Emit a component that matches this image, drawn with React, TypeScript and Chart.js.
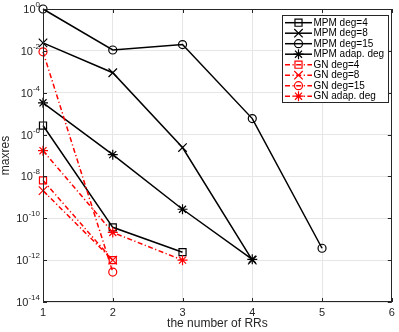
import React, { useEffect, useRef } from 'react';
import { Chart, registerables } from 'chart.js';

Chart.register(...registerables);

// ---- data ----
const rrCounts = [1, 2, 3, 4, 5];
const mpmDeg4 = [2.7e-6, 3.7e-11, 2.4e-12];
const mpmDeg8 = [2.4e-2, 9e-4, 2.4e-7, 1e-12];
const mpmDeg15 = [1.0, 1.1e-2, 2e-2, 5.8e-6, 3.7e-12];
const mpmAdap = [3.3e-5, 1.1e-7, 2.7e-10, 1.1e-12];
const gnDeg4 = [6.5e-9, 1e-12];
const gnDeg8 = [2.1e-9, 1e-12];
const gnDeg15 = [9e-3, 2.7e-13];
const gnAdap = [1.7e-7, 2.1e-11, 1e-12];
const xTicks = [1, 2, 3, 4, 5, 6];
const yExponents = [0, -2, -4, -6, -8, -10, -12, -14];
const seriesLabels = [
  'MPM deg=4',
  'MPM deg=8',
  'MPM deg=15',
  'MPM adap. deg',
  'GN deg=4',
  'GN deg=8',
  'GN deg=15',
  'GN adap. deg',
];
const xTitle = 'the number of RRs';
const yTitle = 'maxres';

const FONT = "'Liberation Sans', Arial, Helvetica, sans-serif";
const TEXT = '#262626';
const RED = '#ff0000';
const BLACK = '#000000';
const DASH = [5, 2.5, 1.2, 2.5];

const markerRadius: Record<string, number> = { rect: 5, crossRot: 6, circle: 4, star: 5 };
const styles = ['rect', 'crossRot', 'circle', 'star'];
const allValues = [mpmDeg4, mpmDeg8, mpmDeg15, mpmAdap, gnDeg4, gnDeg8, gnDeg15, gnAdap];

function drawMarker(ctx: CanvasRenderingContext2D, style: string, x: number, y: number, r: number) {
  ctx.beginPath();
  if (style === 'rect') {
    const s = r * Math.SQRT1_2;
    ctx.rect(x - s, y - s, 2 * s, 2 * s);
  } else if (style === 'circle') {
    ctx.arc(x, y, r, 0, Math.PI * 2);
  } else if (style === 'crossRot' || style === 'star') {
    const o = r * Math.SQRT1_2;
    ctx.moveTo(x - o, y - o); ctx.lineTo(x + o, y + o);
    ctx.moveTo(x - o, y + o); ctx.lineTo(x + o, y - o);
    if (style === 'star') {
      ctx.moveTo(x - r, y); ctx.lineTo(x + r, y);
      ctx.moveTo(x, y - r); ctx.lineTo(x, y + r);
    }
  }
  ctx.stroke();
}

const matlabPlugin = {
  id: 'matlabLook',
  afterDraw(chart: any) {
    const { ctx, chartArea: a, scales } = chart;
    ctx.save();
    // inward ticks
    ctx.strokeStyle = TEXT;
    ctx.lineWidth = 1;
    ctx.setLineDash([]);
    const tl = 4;
    ctx.beginPath();
    xTicks.forEach((v) => {
      const x = Math.round(scales.x.getPixelForValue(v)) + 0.5;
      ctx.moveTo(x, a.bottom); ctx.lineTo(x, a.bottom - tl);
      ctx.moveTo(x, a.top); ctx.lineTo(x, a.top + tl);
    });
    yExponents.forEach((e) => {
      const y = Math.round(scales.y.getPixelForValue(Math.pow(10, e))) + 0.5;
      ctx.moveTo(a.left, y); ctx.lineTo(a.left + tl, y);
      ctx.moveTo(a.right, y); ctx.lineTo(a.right - tl, y);
    });
    ctx.stroke();
    // box
    ctx.strokeRect(Math.round(a.left) + 0.5, Math.round(a.top) + 0.5, Math.round(a.width) - 1, Math.round(a.height) - 1);

    // y tick labels with superscript exponents
    ctx.fillStyle = TEXT;
    yExponents.forEach((e) => {
      const y = scales.y.getPixelForValue(Math.pow(10, e));
      const exp = String(e);
      ctx.font = `8px ${FONT}`;
      const ew = ctx.measureText(exp).width;
      const right = a.left - 3;
      ctx.textAlign = 'left';
      ctx.textBaseline = 'alphabetic';
      ctx.fillText(exp, right - ew, y - 2);
      ctx.font = `11px ${FONT}`;
      ctx.textAlign = 'right';
      ctx.fillText('10', right - ew, y + 4);
    });

    // legend
    const bx = 282, by = 15, bw = 106, bh = 87;
    ctx.fillStyle = '#ffffff';
    ctx.fillRect(bx, by, bw, bh);
    ctx.strokeStyle = TEXT;
    ctx.lineWidth = 1;
    ctx.strokeRect(bx + 0.5, by + 0.5, bw, bh);
    seriesLabels.forEach((label, i) => {
      const y = 22.7 + i * 10.5;
      const color = i < 4 ? BLACK : RED;
      ctx.strokeStyle = color;
      ctx.lineWidth = 1.5;
      ctx.setLineDash(i < 4 ? [] : DASH);
      ctx.beginPath();
      ctx.moveTo(285, y); ctx.lineTo(312, y);
      ctx.stroke();
      ctx.setLineDash([]);
      ctx.lineWidth = 1.2;
      const st = styles[i % 4];
      drawMarker(ctx, st, 298.5, y, markerRadius[st]);
      ctx.fillStyle = '#000000';
      ctx.font = `10px ${FONT}`;
      ctx.textAlign = 'left';
      ctx.textBaseline = 'middle';
      ctx.fillText(label, 313.5, y + 0.5);
    });
    ctx.restore();
  },
};

export default function App() {
  const ref = useRef<HTMLCanvasElement | null>(null);
  useEffect(() => {
    if (!ref.current) return;
    const datasets = allValues.map((vals, i) => {
      const st = styles[i % 4];
      const color = i < 4 ? BLACK : RED;
      return {
        label: seriesLabels[i],
        data: vals.map((v, j) => ({ x: rrCounts[j], y: v })),
        showLine: true,
        borderColor: color,
        backgroundColor: 'transparent',
        borderWidth: 1.5,
        borderDash: i < 4 ? [] : DASH,
        pointStyle: st,
        pointRadius: markerRadius[st],
        pointBorderWidth: 1.2,
        pointBorderColor: color,
        pointBackgroundColor: 'transparent',
        clip: false,
        order: i < 4 ? 2 : 1,
      };
    });
    const chart = new Chart(ref.current, {
      type: 'scatter',
      data: { datasets },
      options: {
        animation: false,
        responsive: false,
        devicePixelRatio: 1,
        layout: { padding: { top: 9, right: 2, left: 0, bottom: 0 } },
        plugins: { legend: { display: false }, tooltip: { enabled: false } },
        scales: {
          x: {
            type: 'linear',
            min: 1,
            max: 6,
            afterBuildTicks: (s: any) => { s.ticks = xTicks.map((v) => ({ value: v })); },
            afterFit: (s: any) => { s.height = 30; },
            grid: { color: '#e6e6e6', drawTicks: false, lineWidth: 1 },
            border: { display: false },
            ticks: { color: TEXT, font: { family: FONT, size: 11 }, padding: 4, maxRotation: 0 },
            title: { display: true, text: xTitle, color: TEXT, font: { family: FONT, size: 12, lineHeight: 1 }, padding: { top: 0, bottom: 2 } },
          },
          y: {
            type: 'logarithmic',
            min: 1e-14,
            max: 1,
            afterBuildTicks: (s: any) => { s.ticks = yExponents.map((e) => ({ value: Math.pow(10, e) })); },
            afterFit: (s: any) => { s.width = 43; },
            grid: { color: '#e6e6e6', drawTicks: false, lineWidth: 1 },
            border: { display: false },
            ticks: { display: false },
            title: { display: true, text: yTitle, color: TEXT, font: { family: FONT, size: 12, lineHeight: 1 }, padding: { top: 0, bottom: 0 } },
          },
        },
      },
      plugins: [matlabPlugin],
    } as any);
    return () => chart.destroy();
  }, []);
  return (
    <div style={{ position: 'absolute', left: 0, top: 0, width: 399, height: 332, background: '#fff' }}>
      <canvas ref={ref} width={399} height={332} style={{ display: 'block' }} />
    </div>
  );
}
